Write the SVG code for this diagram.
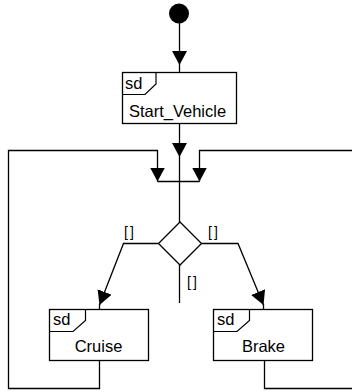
<svg xmlns="http://www.w3.org/2000/svg" width="352" height="392" viewBox="0 0 352 392">
<style>
.box{fill:#fff;stroke:#000;stroke-width:1.3}
.tab{fill:none;stroke:#000;stroke-width:1.2}
.ln{fill:none;stroke:#000;stroke-width:1.3}
.t{font-family:"Liberation Sans",Arial,sans-serif;font-size:16.5px;fill:#000}
.g{font-family:"Liberation Sans",Arial,sans-serif;font-size:14px;fill:#000;letter-spacing:2px}
</style>
<defs>
<marker id="arr" markerUnits="userSpaceOnUse" viewBox="0 0 14 15" refX="14" refY="7.5" markerWidth="14" markerHeight="15" orient="auto">
<path d="M0,0 L14,7.5 L0,15 Z" fill="#000"/>
</marker>
</defs>
<rect width="352" height="392" fill="#fff"/>
<g id="connectors">
<path class="ln" d="M179.5,22 V65" marker-end="url(#arr)"/>
<path class="ln" d="M179.5,65 V72.5"/>
<path class="ln" d="M179.5,124 V157" marker-end="url(#arr)"/>
<path class="ln" d="M179.5,157 V222"/>
<path class="ln" d="M157.5,181.5 H199.5"/>
<path class="ln" d="M158.5,243.5 H123.5 L99.5,305" marker-end="url(#arr)"/>
<path class="ln" d="M99.5,304 V309.5"/>
<path class="ln" d="M201.5,243.5 H238 L263.5,305" marker-end="url(#arr)"/>
<path class="ln" d="M263.5,304 V309.5"/>
<path class="ln" d="M179.5,265 V303"/>
<path class="ln" d="M99.5,360.5 V388.5 H8.5 V150.5 H157.5 V181.5" marker-end="url(#arr)"/>
<path class="ln" d="M264.5,360.5 V388.5 H354"/>
<path class="ln" d="M354,150.5 H199.5 V181.5" marker-end="url(#arr)"/>
<text class="g" x="124" y="237">[]</text>
<text class="g" x="208" y="237">[]</text>
<text class="g" x="187" y="287">[]</text>
</g>
<g id="initial">
<circle cx="179" cy="13.5" r="10" fill="#000"/>
</g>
<g id="start_vehicle">
<rect class="box" x="122.5" y="72.5" width="114" height="51"/>
<path class="tab" d="M122.5,94.5 H145 L156,84 V72.5"/>
<text class="t" x="125" y="89">sd</text>
<text class="t" x="177.5" y="116.5" text-anchor="middle">Start_Vehicle</text>
</g>
<g id="decision">
<polygon class="box" points="180,222 201.5,243.5 180,265 158.5,243.5"/>
</g>
<g id="cruise">
<rect class="box" x="49.5" y="309.5" width="99" height="51"/>
<path class="tab" d="M49.5,331.5 H73 L85.5,320.5 V309.5"/>
<text class="t" x="53" y="325">sd</text>
<text class="t" x="98.5" y="352" text-anchor="middle">Cruise</text>
</g>
<g id="brake">
<rect class="box" x="213.5" y="309.5" width="99" height="51"/>
<path class="tab" d="M213.5,331.5 H237 L249.5,320.5 V309.5"/>
<text class="t" x="217" y="325">sd</text>
<text class="t" x="263.5" y="352" text-anchor="middle">Brake</text>
</g>
</svg>
